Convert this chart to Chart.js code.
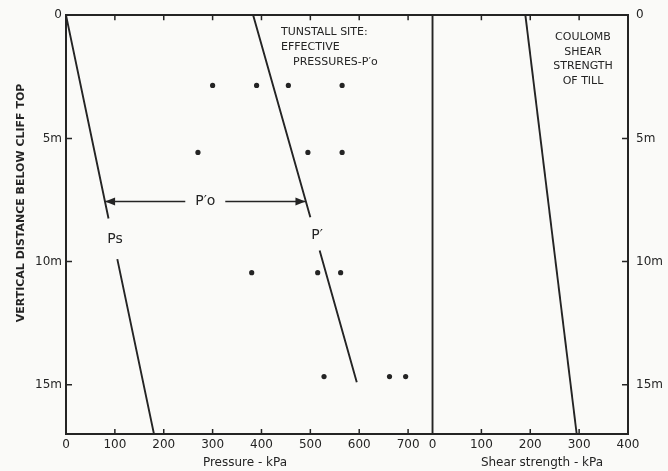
<!DOCTYPE html>
<html>
<head>
<meta charset="utf-8">
<script src="https://cdn.jsdelivr.net/npm/chart.js@4.4.0/dist/chart.umd.min.js"></script>
<style>
  html, body { margin: 0; padding: 0; background: #fafaf8; }
</style>
</head>
<body>
<canvas id="chart" width="668" height="471"></canvas>
<script>
// depths are metres below cliff top, pressures in kPa
var psPressure = [0, 87, null, 105, 180];
var psDepth = [0, 8.25, null, 9.9, 17];
var pPressure = [383, 500, null, 519, 595];
var pDepth = [0, 8.2, null, 9.55, 14.9];
var obsPressure = [300, 390, 455, 565, 270, 495, 565, 380, 515, 562, 528, 662, 695];
var obsDepth = [2.85, 2.85, 2.85, 2.85, 5.57, 5.57, 5.57, 10.45, 10.45, 10.45, 14.67, 14.67, 14.67];
var shearStrength = [190, 295];
var shearDepth = [0, 17];
var shearZero = [0, 0];
var pressureTicks = [0, 100, 200, 300, 400, 500, 600, 700];
var shearTicks = [0, 100, 200, 300, 400];
var depthTicks = [0, 5, 10, 15];
var arrowDepth = 7.56, arrowFrom = 80, arrowTo = 490;

var shearOffset = 750; // shear panel starts where the pressure axis ends
var ink = '#242424';
var fontFam = '"DejaVu Sans", sans-serif';

function pts(xs, ys, off) {
  return xs.map(function(v, i) {
    return { x: v === null ? null : v + (off || 0), y: ys[i] };
  });
}

var extras = {
  id: 'extras',
  beforeDraw: function(chart) {
    var ctx = chart.ctx;
    ctx.save();
    ctx.fillStyle = '#fafaf8';
    ctx.fillRect(0, 0, chart.width, chart.height);
    ctx.restore();
  },
  afterDatasetsDraw: function(chart) {
    var ctx = chart.ctx, x = chart.scales.x, y = chart.scales.y, a = chart.chartArea;
    ctx.save();
    ctx.strokeStyle = ink;
    ctx.fillStyle = ink;
    ctx.lineWidth = 1.5;

    // inward tick marks
    var xt = pressureTicks.slice(1).concat(shearTicks.slice(1, 4).map(function(v) { return v + shearOffset; }));
    xt.forEach(function(v) {
      var px = x.getPixelForValue(v);
      ctx.beginPath();
      ctx.moveTo(px, a.bottom); ctx.lineTo(px, a.bottom - 5);
      ctx.moveTo(px, a.top); ctx.lineTo(px, a.top + 5);
      ctx.stroke();
    });
    depthTicks.slice(1).forEach(function(v) {
      var py = y.getPixelForValue(v);
      ctx.beginPath();
      ctx.moveTo(a.left, py); ctx.lineTo(a.left + 6, py);
      ctx.moveTo(a.right, py); ctx.lineTo(a.right - 6, py);
      ctx.stroke();
    });

    // P'o arrow between Ps and P'
    var ay = y.getPixelForValue(arrowDepth);
    var x1 = x.getPixelForValue(arrowFrom), x2 = x.getPixelForValue(arrowTo);
    var mid = (x1 + x2) / 2;
    ctx.beginPath();
    ctx.moveTo(x1, ay); ctx.lineTo(mid - 20, ay);
    ctx.moveTo(mid + 20, ay); ctx.lineTo(x2, ay);
    ctx.stroke();
    ctx.beginPath();
    ctx.moveTo(x1, ay); ctx.lineTo(x1 + 10, ay - 4); ctx.lineTo(x1 + 10, ay + 4); ctx.closePath();
    ctx.moveTo(x2, ay); ctx.lineTo(x2 - 10, ay - 4); ctx.lineTo(x2 - 10, ay + 4); ctx.closePath();
    ctx.fill();

    ctx.textBaseline = 'middle';
    ctx.textAlign = 'center';
    ctx.font = '14px ' + fontFam;
    ctx.fillText('P\u2032o', mid, ay);
    ctx.fillText('Ps', 115, 239);
    ctx.fillText('P\u2032', 317, 235);

    // notes
    ctx.font = '11px ' + fontFam;
    ctx.textAlign = 'left';
    ctx.fillText('TUNSTALL SITE:', 281, 32);
    ctx.fillText('EFFECTIVE', 281, 47);
    ctx.fillText('PRESSURES-P\u2032o', 293, 62);
    ctx.textAlign = 'center';
    ['COULOMB', 'SHEAR', 'STRENGTH', 'OF TILL'].forEach(function(t, i) {
      ctx.fillText(t, 583, 37 + i * 14.7);
    });

    // axis titles
    ctx.font = '12px ' + fontFam;
    ctx.fillText('Pressure - kPa', 245, 463);
    ctx.fillText('Shear strength - kPa', 542, 463);
    ctx.translate(21, 203);
    ctx.rotate(-Math.PI / 2);
    ctx.font = 'bold 11px ' + fontFam;
    ctx.fillText('VERTICAL DISTANCE BELOW CLIFF TOP', 0, 0);
    ctx.restore();
  }
};

function lineSet(data) {
  return {
    type: 'line', data: data, borderColor: ink, borderWidth: 1.9,
    pointRadius: 0, spanGaps: false, fill: false, tension: 0
  };
}

var tickFont = { family: fontFam, size: 12 };

new Chart(document.getElementById('chart'), {
  type: 'scatter',
  data: {
    datasets: [
      lineSet(pts(psPressure, psDepth)),
      lineSet(pts(pPressure, pDepth)),
      lineSet(pts(shearZero, shearDepth, shearOffset)),
      lineSet(pts(shearStrength, shearDepth, shearOffset)),
      {
        data: pts(obsPressure, obsDepth),
        pointRadius: 2.6, pointBackgroundColor: ink, pointBorderWidth: 0
      }
    ]
  },
  options: {
    responsive: false,
    animation: false,
    layout: { padding: 0 },
    plugins: { legend: { display: false }, tooltip: { enabled: false } },
    scales: {
      x: {
        type: 'linear', position: 'bottom', min: 0, max: shearOffset + 400,
        afterBuildTicks: function(s) {
          s.ticks = pressureTicks.map(function(v) { return { value: v }; })
            .concat(shearTicks.map(function(v) { return { value: v + shearOffset }; }));
        },
        afterFit: function(s) { s.height = 37; },
        ticks: {
          autoSkip: false, maxRotation: 0, padding: 4, color: ink, font: tickFont,
          callback: function(v) { return v >= shearOffset ? v - shearOffset : v; }
        },
        grid: { display: false, drawTicks: false },
        border: { display: true, color: ink, width: 2 }
      },
      xTop: {
        type: 'linear', position: 'top', min: 0, max: shearOffset + 400,
        afterFit: function(s) { s.height = 15; },
        ticks: { display: false },
        grid: { display: false, drawTicks: false },
        border: { display: true, color: ink, width: 2 }
      },
      y: {
        type: 'linear', position: 'left', reverse: true, min: 0, max: 17,
        afterBuildTicks: function(s) { s.ticks = depthTicks.map(function(v) { return { value: v }; }); },
        afterFit: function(s) { s.width = 66; },
        ticks: {
          padding: 4, color: ink, font: tickFont,
          callback: function(v) { return v === 0 ? '0' : v + 'm'; }
        },
        grid: { display: false, drawTicks: false },
        border: { display: true, color: ink, width: 2 }
      },
      yRight: {
        type: 'linear', position: 'right', reverse: true, min: 0, max: 17,
        afterBuildTicks: function(s) { s.ticks = depthTicks.map(function(v) { return { value: v }; }); },
        afterFit: function(s) { s.width = 40; },
        ticks: {
          padding: 8, color: ink, font: tickFont,
          callback: function(v) { return v === 0 ? '0' : v + 'm'; }
        },
        grid: { display: false, drawTicks: false },
        border: { display: true, color: ink, width: 2 }
      }
    }
  },
  plugins: [extras]
});
</script>
</body>
</html>
